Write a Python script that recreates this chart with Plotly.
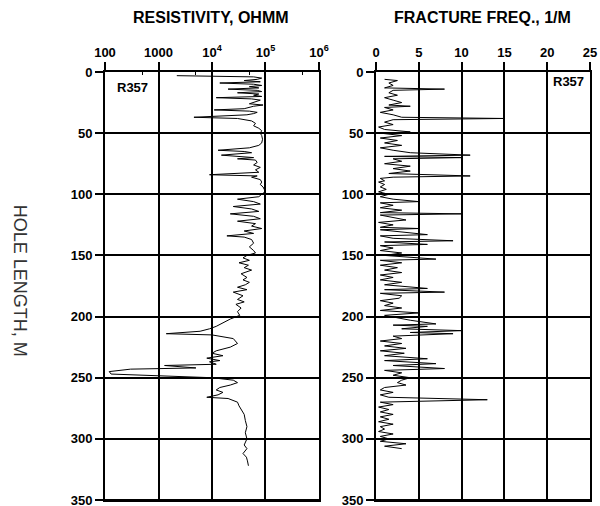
import plotly.graph_objects as go

# ---------------- data ----------------
res_depth = [3, 4, 5, 6, 7, 8, 9, 10, 11, 12, 13, 14, 15, 16, 17, 18, 19, 20, 21, 22,
             23, 24, 26, 27, 28, 30, 31, 32, 33, 34, 35, 37, 38, 40, 42, 44, 46, 48, 50, 52,
             55, 58, 60, 62, 64, 65, 66, 68, 69, 70, 71, 72, 74, 76, 78, 80, 82, 84, 85, 86,
             88, 90, 92, 94, 96, 98, 100, 102, 104, 106, 108, 110, 112, 114, 116, 118, 120, 122, 124, 126,
             128, 130, 132, 134, 135, 137, 140, 143, 146, 148, 150, 152, 154, 156, 158, 160, 162, 165, 168, 170,
             172, 174, 176, 178, 180, 183, 186, 188, 190, 193, 196, 199, 202, 205, 208, 210, 212, 214, 215, 218,
             222, 225, 228, 230, 232, 234, 236, 237, 239, 240, 242, 243, 245, 247, 249, 250, 252, 254, 256, 258,
             260, 262, 264, 266, 267, 270, 273, 276, 280, 285, 290, 295, 300, 305, 308, 312, 315, 318, 322]
res_ohmm = [2200, 60000, 85000, 70000, 40000, 80000, 14000, 60000, 85000, 50000, 75000, 20000, 70000, 85000, 30000, 75000, 60000, 85000, 12000, 55000,
            80000, 70000, 50000, 90000, 60000, 40000, 11000, 50000, 70000, 60000, 45000, 4600, 30000, 55000, 65000, 60000, 75000, 85000, 80000, 85000,
            88000, 85000, 75000, 50000, 13000, 40000, 55000, 15000, 40000, 60000, 30000, 65000, 70000, 60000, 80000, 65000, 75000, 9000, 70000, 55000,
            80000, 85000, 80000, 90000, 95000, 98000, 85000, 75000, 30000, 60000, 80000, 25000, 55000, 75000, 22000, 60000, 80000, 30000, 65000, 55000,
            85000, 40000, 60000, 19000, 40000, 55000, 60000, 50000, 60000, 65000, 45000, 38000, 50000, 32000, 48000, 40000, 55000, 35000, 45000, 38000,
            50000, 42000, 30000, 45000, 25000, 38000, 30000, 40000, 28000, 35000, 30000, 33000, 22000, 16000, 12000, 9000, 6000, 1400, 10000, 25000,
            30000, 22000, 12000, 10000, 16000, 8000, 14000, 9000, 12000, 1300, 5000, 300, 120, 130, 2500, 10000, 25000, 30000, 22000, 14000,
            12000, 16000, 13000, 8000, 20000, 30000, 32000, 35000, 40000, 42000, 45000, 42000, 45000, 40000, 45000, 38000, 44000, 46000, 48000]

frac_depth = [6, 7, 9, 11, 13, 14, 15, 17, 19, 21, 23, 25, 27, 28, 29, 31, 33, 35, 37, 38,
              39, 41, 43, 45, 47, 49, 50, 52, 54, 56, 58, 60, 62, 64, 66, 68, 69, 70, 71, 73,
              75, 77, 79, 81, 83, 85, 86, 87, 89, 90, 92, 94, 96, 98, 100, 102, 104, 106, 107, 109,
              111, 113, 115, 116, 117, 119, 121, 123, 125, 127, 128, 129, 131, 133, 134, 136, 138, 139, 141, 142,
              144, 146, 148, 150, 153, 154, 156, 158, 160, 162, 164, 166, 168, 170, 172, 174, 177, 178, 180, 181,
              183, 185, 187, 189, 191, 193, 195, 197, 199, 201, 203, 206, 207, 208, 210, 211.5, 213, 214, 216, 218,
              220, 222, 224, 226, 228, 230, 232, 234.5, 236, 238.5, 240, 242.5, 244, 246, 248, 250, 252, 254, 256, 258,
              260, 262, 264, 266, 268, 270, 272, 274, 276, 278, 280, 282, 284, 286, 288, 290, 292, 294, 296, 298,
              300, 302, 304, 306, 308]
frac_per_m = [1, 2.5, 1.5, 2, 1, 8, 2, 1.5, 2.5, 1, 2, 3, 1.5, 4, 1, 2, 0.5, 2, 3, 15,
              2, 1, 2, 0.3, 1, 4, 0.5, 3, 0.5, 2.5, 1, 3, 0.5, 2, 4, 11, 1, 10, 2, 3,
              1, 4, 2, 4, 1.5, 11, 2, 0.5, 1, 0.3, 1, 0.5, 1.2, 0.3, 1.5, 0.5, 2, 5, 0.5, 2,
              0.5, 3, 0.5, 10, 0.5, 2, 3.5, 0.3, 2, 0.5, 5, 0.5, 3, 6, 0.5, 2, 9, 1, 6, 0.5,
              2, 0.5, 3, 1, 7, 0.5, 3, 0.5, 2.5, 1, 3, 0.5, 2, 0.5, 3, 1, 6, 1, 8, 0.5,
              3, 2.7, 0.5, 2, 1, 3, 0.5, 5, 1, 2.5, 4, 7, 2, 6, 3, 10, 4, 9, 2, 3,
              0.5, 3, 1, 3.5, 0.5, 3.3, 1, 6, 1, 7, 2, 8, 1, 3, 2, 4, 3, 2.5, 3.5, 1,
              0.5, 2, 0.5, 1.5, 13, 0.5, 2, 0.3, 1.5, 0.5, 2, 0.5, 1.5, 0.3, 2, 0.5, 1, 0.3, 2, 0.5,
              1.5, 0.5, 3.5, 1, 3]

res_ticks = [100, 1000, 10000, 100000, 1000000]
res_ticktext = ["100", "1000", "10<sup>4</sup>", "10<sup>5</sup>", "10<sup>6</sup>"]
res_minor = [500, 5000, 50000, 500000]
frac_ticks = [0, 5, 10, 15, 20, 25]
depth_ticks = [0, 50, 100, 150, 200, 250, 300, 350]

# ---------------- figure ----------------
FONT = "Liberation Sans, Arial, sans-serif"
tickfont = dict(family=FONT, size=13, color="black", weight="bold")

fig = go.Figure()
fig.add_trace(go.Scatter(x=res_ohmm, y=res_depth, mode="lines",
                         line=dict(color="black", width=1), xaxis="x", yaxis="y",
                         showlegend=False, hoverinfo="skip"))
fig.add_trace(go.Scatter(x=frac_per_m, y=frac_depth, mode="lines",
                         line=dict(color="black", width=1), xaxis="x2", yaxis="y2",
                         showlegend=False, hoverinfo="skip"))

common_axis = dict(showgrid=True, gridcolor="black", gridwidth=2,
                   showline=True, mirror=True, linecolor="black", linewidth=2,
                   ticks="outside", ticklen=8, tickwidth=2, tickcolor="black",
                   tickfont=tickfont, zeroline=False, automargin=False,
                   ticklabeloverflow="allow")

# bottom frame line of each panel (domain coordinates)
frame_shapes = [
    dict(type="line", xref="x domain", yref="y domain", x0=0, x1=1, y0=0, y1=0,
         line=dict(color="black", width=2), layer="above"),
    dict(type="line", xref="x2 domain", yref="y2 domain", x0=0, x1=1, y0=0, y1=0,
         line=dict(color="black", width=2), layer="above"),
]

fig.update_layout(
    width=600, height=506,
    margin=dict(l=105, r=10, t=72, b=6),
    paper_bgcolor="white", plot_bgcolor="white",
    font=dict(family=FONT, color="black"),
    xaxis=dict(type="log", range=[2, 6], side="top", domain=[0, 0.4412], anchor="y",
               tickvals=res_ticks, ticktext=res_ticktext,
               minor=dict(tickvals=res_minor, ticks="inside", ticklen=3, tickcolor="black",
                          tickwidth=1, showgrid=False),
               **common_axis),
    yaxis=dict(range=[350, 0], domain=[0, 1], anchor="x", tickvals=depth_ticks, **common_axis),
    xaxis2=dict(range=[0, 25], side="top", domain=[0.5588, 1], anchor="y2",
                tickvals=frac_ticks, **common_axis),
    yaxis2=dict(range=[350, 0], domain=[0, 1], anchor="x2", tickvals=depth_ticks, **common_axis),
    shapes=frame_shapes,
    annotations=[
        dict(text="<b>RESISTIVITY, OHMM</b>", xref="paper", yref="paper", x=0.2186, y=1.1285,
             xanchor="center", yanchor="middle", showarrow=False,
             font=dict(family=FONT, size=16, color="black")),
        dict(text="<b>FRACTURE FREQ., 1/M</b>", xref="paper", yref="paper", x=0.778, y=1.1285,
             xanchor="center", yanchor="middle", showarrow=False,
             font=dict(family=FONT, size=16, color="black")),
        dict(text="<b>R357</b>", xref="x", yref="y", x=2.52, y=13,
             xanchor="center", yanchor="middle", showarrow=False,
             font=dict(family=FONT, size=13, color="black")),
        dict(text="<b>R357</b>", xref="x2", yref="y2", x=22.5, y=7.4,
             xanchor="center", yanchor="middle", showarrow=False,
             font=dict(family=FONT, size=13, color="black")),
        dict(text="HOLE LENGTH, M", xref="paper", yref="paper", x=-0.175, y=0.512,
             xanchor="center", yanchor="middle", showarrow=False, textangle=90,
             font=dict(family=FONT, size=18, color="#333333")),
    ],
)

fig.write_html("out.html", config={"displayModeBar": False},
               post_script="document.body.style.margin='0';document.body.style.overflow='hidden';")
